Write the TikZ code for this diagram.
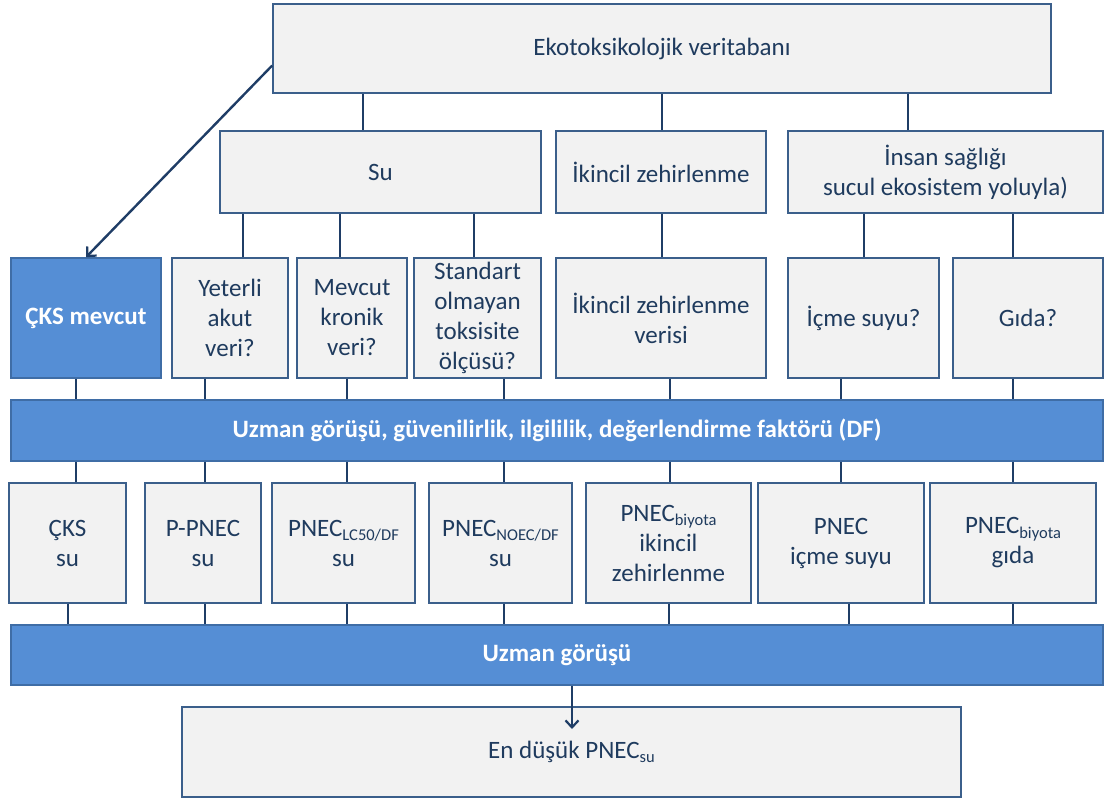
\documentclass[tikz,border=0pt]{standalone}
\usepackage{fontspec}
\setmainfont{Carlito}
\usetikzlibrary{arrows.meta, positioning}
\definecolor{ink}{HTML}{1F3B5E}
\definecolor{edge}{HTML}{3B5F8B}
\definecolor{wire}{HTML}{1F3D66}
\definecolor{wash}{HTML}{F2F2F2}
\definecolor{accent}{HTML}{558ED5}
\definecolor{accentedge}{HTML}{3F6DA6}
\newcommand\lowsub[1]{\raisebox{-0.35ex}{\fontsize{16.5}{16.5}\selectfont #1}}
\tikzset{
  font=\fontsize{25}{30}\selectfont,
  >={Straight Barb[length=7pt, width=13pt, line width=2.2pt]},
  %
  box/.style={
    draw=edge, line width=1.6pt, fill=wash, align=center, text=ink,
    inner sep=1pt,
  },
  boxa/.style={box, draw=accentedge, fill=accent, text=white,
               font=\fontsize{25}{30}\selectfont\bfseries},
  %
  wire/.style={draw=wire, line width=2.4pt},
  flow/.style={wire, ->},
}
\begin{document}
\begin{tikzpicture}[x=1pt, y=-1pt]
  \useasboundingbox (0,0) rectangle (1105,800);

  % --- database and the three routes ------------------------------------
  \node[box, minimum width=778pt, minimum height=89pt] (db) at (662,48.5)
    {Ekotoksikolojik veritabanı};
  \node[box, minimum width=321pt, minimum height=82pt] (water) at (380.5,172) {Su};
  \node[box, minimum width=210pt, minimum height=82pt] (secpois) at (661,172)
    {İkincil zehirlenme};
  \node[box, minimum width=315pt, minimum height=82pt] (human) at (945.5,172)
    {İnsan sağlığı\\sucul ekosistem yoluyla)};

  % --- questions ---------------------------------------------------------
  \node[boxa, minimum width=150pt, minimum height=120pt] (cks) at (86,318) {ÇKS mevcut};
  \node[box, minimum width=116pt, minimum height=120pt] (acute) at (230,318)
    {Yeterli\\akut\\veri?};
  \node[box, minimum width=110pt, minimum height=120pt] (chronic) at (352,318)
    {Mevcut\\kronik\\veri?};
  \node[box, minimum width=127pt, minimum height=120pt] (nonstd) at (477.5,318)
    {Standart\\olmayan\\toksisite\\ölçüsü?};
  \node[box, minimum width=210pt, minimum height=120pt] (secdata) at (661,318)
    {İkincil zehirlenme\\verisi};
  \node[box, minimum width=151pt, minimum height=120pt] (drink) at (863.5,318)
    {İçme suyu?};
  \node[box, minimum width=150pt, minimum height=120pt] (food) at (1028,318) {Gıda?};

  \node[boxa, minimum width=1092pt, minimum height=61pt] (expert) at (557,430.5)
    {Uzman görüşü, güvenilirlik, ilgililik, değerlendirme faktörü (DF)};

  % --- candidate PNECs ---------------------------------------------------
  \node[box, minimum width=117pt, minimum height=120pt] (ckswater) at (67.5,543)
    {ÇKS\\su};
  \node[box, minimum width=116pt, minimum height=120pt] (ppnec) at (203,543)
    {P-PNEC\\su};
  \node[box, minimum width=143pt, minimum height=120pt] (plc) at (343.5,543)
    {PNEC\lowsub{LC50/DF}\\su};
  \node[box, minimum width=143pt, minimum height=120pt] (pnoec) at (500.5,543)
    {PNEC\lowsub{NOEC/DF}\\su};
  \node[box, minimum width=165pt, minimum height=120pt] (pbiota) at (668.5,543)
    {PNEC\lowsub{biyota}\\ikincil\\zehirlenme};
  \node[box, minimum width=166pt, minimum height=120pt] (pdrink) at (841,543)
    {PNEC\\içme suyu};
  \node[box, minimum width=166pt, minimum height=120pt] (pfood) at (1013,543)
    {PNEC\lowsub{biyota}\\gıda};

  \node[boxa, minimum width=1092pt, minimum height=60pt] (judge) at (557,655)
    {Uzman görüşü};

  \node[box, minimum width=779pt, minimum height=90pt] (lowest) at (571.5,752)
    {En düşük PNEC\lowsub{su}};
  \coordinate (drop) at (572,729);

  % --- connectors --------------------------------------------------------
  \draw[wire] (363,0 |- db.south) -- (363,0 |- water.north);
  \draw[wire] (662,0 |- db.south) -- (662,0 |- secpois.north);
  \draw[wire] (908,0 |- db.south) -- (908,0 |- human.north);

  \draw[wire] (243,0 |- water.south) -- (243,0 |- acute.north);
  \draw[wire] (340,0 |- water.south) -- (340,0 |- chronic.north);
  \draw[wire] (474,0 |- water.south) -- (474,0 |- nonstd.north);
  \draw[wire] (662,0 |- secpois.south) -- (662,0 |- secdata.north);
  \draw[wire] (864,0 |- human.south) -- (864,0 |- drink.north);
  \draw[wire] (1013,0 |- human.south) -- (1013,0 |- food.north);

  \draw[flow] ([yshift=-17pt]db.west) -- (cks.north);

  \draw[wire] (76,0 |- cks.south) -- (76,0 |- expert.north);
  \draw[wire] (205,0 |- acute.south) -- (205,0 |- expert.north);
  \draw[wire] (347,0 |- chronic.south) -- (347,0 |- expert.north);
  \draw[wire] (504,0 |- nonstd.south) -- (504,0 |- expert.north);
  \draw[wire] (670,0 |- secdata.south) -- (670,0 |- expert.north);
  \draw[wire] (841,0 |- drink.south) -- (841,0 |- expert.north);
  \draw[wire] (1013,0 |- food.south) -- (1013,0 |- expert.north);

  \draw[wire] (76,0 |- expert.south) -- (76,0 |- ckswater.north);
  \draw[wire] (205,0 |- expert.south) -- (205,0 |- ppnec.north);
  \draw[wire] (347,0 |- expert.south) -- (347,0 |- plc.north);
  \draw[wire] (504,0 |- expert.south) -- (504,0 |- pnoec.north);
  \draw[wire] (670,0 |- expert.south) -- (670,0 |- pbiota.north);
  \draw[wire] (841,0 |- expert.south) -- (841,0 |- pdrink.north);
  \draw[wire] (1013,0 |- expert.south) -- (1013,0 |- pfood.north);

  \draw[wire] (68,0 |- ckswater.south) -- (68,0 |- judge.north);
  \draw[wire] (205,0 |- ppnec.south) -- (205,0 |- judge.north);
  \draw[wire] (347,0 |- plc.south) -- (347,0 |- judge.north);
  \draw[wire] (504,0 |- pnoec.south) -- (504,0 |- judge.north);
  \draw[wire] (669,0 |- pbiota.south) -- (669,0 |- judge.north);
  \draw[wire] (849,0 |- pdrink.south) -- (849,0 |- judge.north);
  \draw[wire] (1013,0 |- pfood.south) -- (1013,0 |- judge.north);

  \draw[flow] (572,0 |- judge.south) -- (drop);

\end{tikzpicture}
\end{document}
